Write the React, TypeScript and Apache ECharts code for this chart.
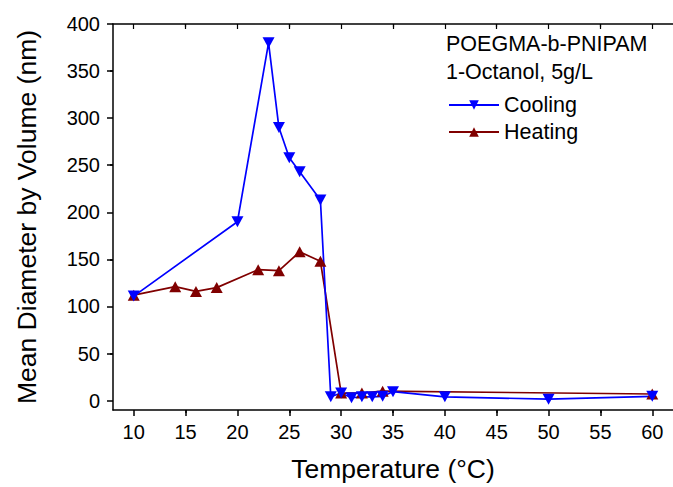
import React, { useEffect, useRef } from "react";
import * as echarts from "echarts";

const coolingT = [10, 20, 23, 24, 25, 26, 28, 29, 30, 31, 32, 33, 34, 35, 40, 50, 60];
const coolingD = [111, 190, 380, 290, 258, 243, 213, 4, 8, 3, 4, 4, 4.5, 9.5, 4, 1.5, 4.5];
const heatingT = [10, 14, 16, 18, 22, 24, 26, 28, 30, 32, 34, 60];
const heatingD = [112, 121, 116, 120, 139, 138, 158, 148, 8, 8, 10, 7];
const xTicks = [10, 15, 20, 25, 30, 35, 40, 45, 50, 55, 60];
const yTicks = [0, 50, 100, 150, 200, 250, 300, 350, 400];
const annotation = ["POEGMA-b-PNIPAM", "1-Octanol, 5g/L"];

const FONT = "Liberation Sans";

export default function App() {
  const ref = useRef<HTMLDivElement>(null);
  useEffect(() => {
    const chart = echarts.init(ref.current!, null, { renderer: "svg" });
    const pair = (xs: number[], ys: number[]) => xs.map((x, i) => [x, ys[i]]);
    const axisLine = { show: true, onZero: false, lineStyle: { color: "#000", width: 1.5 } };
    chart.setOption({
      animation: false,
      backgroundColor: "#fff",
      textStyle: { fontFamily: FONT },
      grid: { left: 113, top: 24, width: 564, height: 387, containLabel: false },
      xAxis: [
        {
          type: "value",
          min: 8,
          max: 62,
          position: "bottom",
          axisLine,
          splitLine: { show: false },
          axisTick: { show: true, inside: false, length: 6, customValues: xTicks, lineStyle: { color: "#000", width: 1.5 } },
          minorTick: { show: true, splitNumber: 2, length: 3, lineStyle: { color: "#000", width: 1.5 } },
          axisLabel: { customValues: xTicks, fontSize: 20, color: "#000", margin: 12, fontFamily: FONT },
          name: "Temperature (°C)",
          nameLocation: "middle",
          nameGap: 45,
          nameTextStyle: { fontSize: 26.5, color: "#000", fontFamily: FONT },
        },
        {
          type: "value",
          min: 8,
          max: 62,
          position: "top",
          axisLine,
          splitLine: { show: false },
          axisTick: { show: true, inside: true, length: 5, customValues: xTicks, lineStyle: { color: "#000", width: 1.2 } },
          minorTick: { show: true, splitNumber: 2, length: 3, lineStyle: { color: "#000", width: 1.2 } },
          axisLabel: { show: false },
        },
      ],
      yAxis: {
        type: "value",
        min: -10,
        max: 400,
        axisLine,
        splitLine: { show: false },
        axisTick: { show: true, inside: false, length: 6, customValues: yTicks, lineStyle: { color: "#000", width: 1.5 } },
        minorTick: { show: true, splitNumber: 2, length: 3, lineStyle: { color: "#000", width: 1.5 } },
        axisLabel: { customValues: yTicks, fontSize: 20, color: "#000", margin: 13, fontFamily: FONT },
        name: "Mean Diameter by Volume (nm)",
        nameLocation: "middle",
        nameGap: 73,
        nameTextStyle: { fontSize: 26.5, color: "#000", fontFamily: FONT },
      },
      legend: {
        orient: "vertical",
        left: 443,
        top: 89,
        itemWidth: 50,
        itemHeight: 12,
        itemGap: 5,
        data: ["Cooling", "Heating"],
        textStyle: { fontSize: 21.5, color: "#000", fontFamily: FONT },
      },
      graphic: annotation.map((t, i) => ({
        type: "text",
        left: 446,
        top: 33 + i * 28,
        style: { text: t, font: `21.5px "${FONT}"`, fill: "#000" },
      })),
      series: [
        {
          name: "Heating",
          type: "line",
          data: pair(heatingT, heatingD),
          symbol: "triangle",
          symbolSize: [12, 11],
          color: "#800000",
          lineStyle: { color: "#800000", width: 1.7 },
          itemStyle: { color: "#800000" },
        },
        {
          name: "Cooling",
          type: "line",
          data: pair(coolingT, coolingD),
          symbol: "triangle",
          symbolRotate: 180,
          symbolSize: [12, 11],
          color: "#0000ff",
          lineStyle: { color: "#0000ff", width: 1.7 },
          itemStyle: { color: "#0000ff" },
        },
      ],
    });
    return () => chart.dispose();
  }, []);
  return <div ref={ref} style={{ width: 673, height: 487, position: "absolute", left: 0, top: 0 }} />;
}
